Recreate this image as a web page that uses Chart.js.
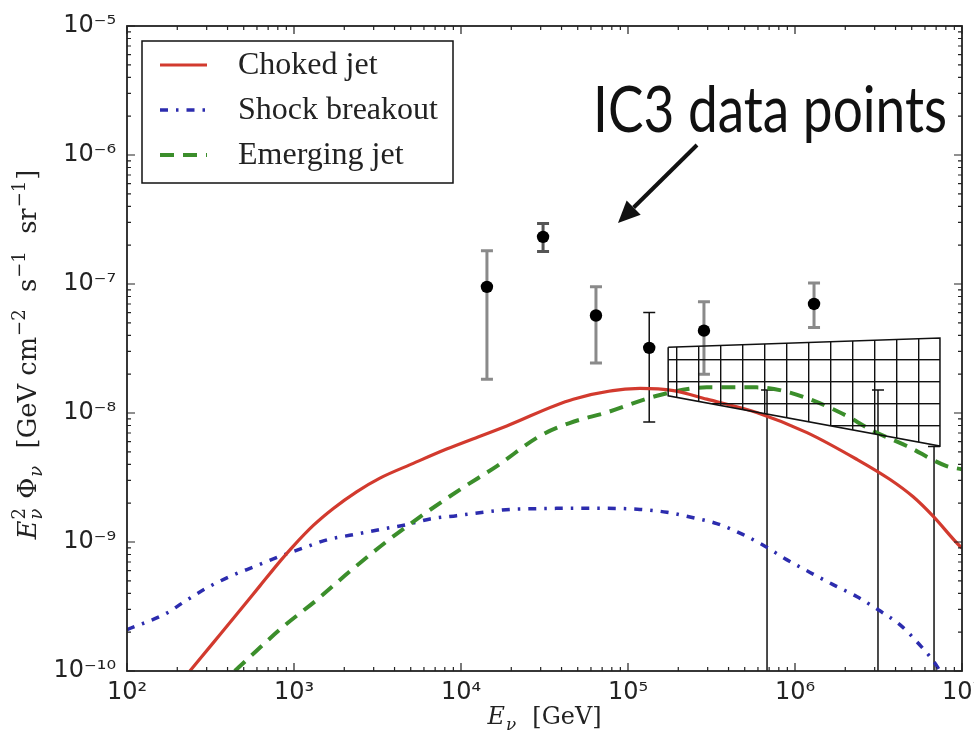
<!DOCTYPE html>
<html>
<head>
<meta charset="utf-8">
<script src="https://cdn.jsdelivr.net/npm/chart.js@4.4.1/dist/chart.umd.min.js"></script>
<style>
  body { margin: 0; background: #fff; }
  #wrap { position: relative; width: 974px; height: 744px; }
</style>
</head>
<body>
<div id="wrap"><canvas id="fluxChart"></canvas></div>
<script>
// energies in GeV, fluxes E^2 Phi in GeV cm^-2 s^-1 sr^-1
const chokedE = [238, 329, 454, 625, 824, 991, 1310, 1720, 2370, 3270, 5180, 8200, 13000, 18800, 47000, 118000, 187000, 296000, 589000, 1180000, 2340000, 3710000, 5100000, 6730000, 9730000, 10000000];
const chokedFlux = [1.0e-10, 1.66e-10, 2.75e-10, 4.57e-10, 7.08e-10, 9.3e-10, 1.35e-9, 1.82e-9, 2.45e-9, 3.13e-9, 4.07e-9, 5.25e-9, 6.61e-9, 7.94e-9, 1.28e-8, 1.55e-8, 1.49e-8, 1.28e-8, 1.01e-8, 7.05e-9, 4.38e-9, 3.05e-9, 2.24e-9, 1.58e-9, 9.27e-10, 9.0e-10];

const shockE = [100, 173, 217, 300, 414, 583, 824, 1140, 1600, 2270, 3270, 4730, 6520, 9420, 13600, 19600, 27100, 56600, 118000, 171000, 246000, 340000, 490000, 661000, 891000, 1230000, 1690000, 2340000, 3150000, 4260000, 5470000, 6890000, 7380000];
const shockFlux = [2.09e-10, 2.81e-10, 3.4e-10, 4.40e-10, 5.41e-10, 6.47e-10, 7.74e-10, 9.0e-10, 1.045e-9, 1.14e-9, 1.25e-9, 1.365e-9, 1.51e-9, 1.60e-9, 1.70e-9, 1.79e-9, 1.81e-9, 1.83e-9, 1.79e-9, 1.70e-9, 1.54e-9, 1.39e-9, 1.14e-9, 9.27e-10, 7.30e-10, 5.81e-10, 4.67e-10, 3.78e-10, 2.98e-10, 2.28e-10, 1.64e-10, 1.15e-10, 1.0e-10];

const emergE = [442, 521, 863, 1370, 2160, 3590, 5940, 9860, 16400, 29700, 44700, 74500, 149000, 296000, 589000, 933000, 1860000, 2940000, 4670000, 8090000, 10000000];
const emergFlux = [1.0e-10, 1.22e-10, 2.21e-10, 3.56e-10, 5.92e-10, 1.01e-9, 1.63e-9, 2.55e-9, 3.88e-9, 6.64e-9, 8.36e-9, 1.01e-8, 1.36e-8, 1.58e-8, 1.58e-8, 1.44e-8, 1.01e-8, 7.26e-9, 5.55e-9, 3.88e-9, 3.66e-9];

// IC3 data points with error bars
const icE = [14300, 31000, 64300, 134000, 285000, 1300000];
const icFlux = [9.5e-8, 2.32e-7, 5.7e-8, 3.2e-8, 4.35e-8, 7.0e-8];
const icLo = [1.83e-8, 1.79e-7, 2.44e-8, 8.5e-9, 2.0e-8, 4.6e-8];
const icHi = [1.81e-7, 2.94e-7, 9.5e-8, 6.0e-8, 7.3e-8, 1.02e-7];

// upper limits (bar runs down to zero)
const limE = [680000, 3140000, 6800000];
const limHi = [1.51e-8, 1.51e-8, 5.5e-9];

// hatched fit band
const bandE = [1.74e5, 7.38e6];
const bandTop = [3.23e-8, 3.82e-8];
const bandBottom = [1.36e-8, 5.55e-9];

const xTickExp = [2, 3, 4, 5, 6, 7];
const yTickExp = [-10, -9, -8, -7, -6, -5];

const barColors = ["#8a8a8a", "#555", "#8a8a8a", "#111", "#8a8a8a", "#8a8a8a"];
const barWidths = [3, 3, 3, 1.5, 3, 3];

const toXY = (xs, ys) => xs.map((x, i) => ({ x, y: ys[i] }));
const supMap = { "-": "⁻", "0": "⁰", "1": "¹", "2": "²", "3": "³", "4": "⁴", "5": "⁵", "6": "⁶", "7": "⁷", "8": "⁸", "9": "⁹" };
const pow10Label = (e) => "10" + String(e).split("").map((c) => supMap[c]).join("");
const isMajor = (v) => Math.abs(Math.log10(v) - Math.round(Math.log10(v))) < 1e-9;

function logTicks(exps) {
  const out = [];
  for (let i = 0; i < exps.length; i++) {
    const base = Math.pow(10, exps[i]);
    out.push({ value: base });
    if (i < exps.length - 1) for (let m = 2; m <= 9; m++) out.push({ value: m * base });
  }
  return out;
}

const serif = '"Liberation Serif", "DejaVu Serif", serif';
const titleSerif = '"DejaVu Serif", serif';

// draws (or just measures) text with super/subscripts, left aligned on baseline y
function richText(ctx, parts, size, x, y, draw, family) {
  let cx = x;
  for (const p of parts) {
    if (p.t !== undefined) {
      ctx.font = (p.it ? "italic " : "") + size + "px " + family;
      if (draw) ctx.fillText(p.t, cx, y);
      cx += ctx.measureText(p.t).width;
    } else {
      const s = size * 0.7;
      let w = 0;
      if (p.sup) {
        ctx.font = s + "px " + family;
        if (draw) ctx.fillText(p.sup, cx + 1, y - size * 0.42);
        w = ctx.measureText(p.sup).width;
      }
      if (p.sub) {
        ctx.font = "italic " + s + "px " + family;
        if (draw) ctx.fillText(p.sub, cx + 1, y + size * 0.24);
        w = Math.max(w, ctx.measureText(p.sub).width);
      }
      cx += w + 2;
    }
  }
  return cx - x;
}

const yTitle = [{ t: "E", it: 1 }, { sup: "2", sub: "ν" }, { t: " Φ" }, { sub: "ν" }, { t: "  [GeV cm" }, { sup: "−2" }, { t: "  s" }, { sup: "−1" }, { t: "  sr" }, { sup: "−1" }, { t: "]" }];
const xTitle = [{ t: "E", it: 1 }, { sub: "ν" }, { t: "  [GeV]" }];

// error bars + upper limits, under the markers
const errorBars = {
  id: "errorBars",
  beforeDatasetsDraw(chart) {
    const { ctx, chartArea: a, scales: { x, y } } = chart;
    const bar = (px, top, bottom, color, w, lowCap) => {
      ctx.strokeStyle = color;
      ctx.lineWidth = w;
      ctx.beginPath();
      ctx.moveTo(px, top); ctx.lineTo(px, bottom);
      ctx.moveTo(px - 6, top); ctx.lineTo(px + 6, top);
      if (lowCap) { ctx.moveTo(px - 6, bottom); ctx.lineTo(px + 6, bottom); }
      ctx.stroke();
    };
    ctx.save();
    ctx.beginPath();
    ctx.rect(a.left, a.top, a.width, a.height);
    ctx.clip();
    icE.forEach((e, i) => {
      bar(x.getPixelForValue(e), y.getPixelForValue(icHi[i]), y.getPixelForValue(icLo[i]), barColors[i], barWidths[i], true);
    });
    limE.forEach((e, i) => {
      bar(x.getPixelForValue(e), y.getPixelForValue(limHi[i]), a.bottom, "#111", 1.5, false);
    });
    ctx.restore();
  }
};

function makeHatch(ctx) {
  const tile = document.createElement("canvas");
  tile.width = tile.height = 22;
  const t = tile.getContext("2d");
  t.fillStyle = "#111";
  t.fillRect(0, 0, 1.4, 22);
  t.fillRect(0, 0, 22, 1.4);
  const p = ctx.createPattern(tile, "repeat");
  p.setTransform(new DOMMatrix().translate(16, 7));
  return p;
}

const hatchBand = {
  id: "hatchBand",
  beforeDatasetDraw(chart, args) {
    const ds = chart.data.datasets[args.index];
    if (!ds.hatch) return;
    const ctx = chart.ctx;
    const pts = args.meta.data;
    ctx.save();
    ctx.beginPath();
    pts.forEach((p, i) => (i ? ctx.lineTo(p.x, p.y) : ctx.moveTo(p.x, p.y)));
    ctx.closePath();
    ctx.fillStyle = makeHatch(ctx);
    ctx.fill();
    ctx.restore();
  }
};

// frame and inward ticks on all four sides
const frameTicks = {
  id: "frameTicks",
  afterDatasetsDraw(chart) {
    const { ctx, chartArea: a, scales: { x, y } } = chart;
    ctx.save();
    ctx.strokeStyle = "#222";
    ctx.lineWidth = 1.2;
    ctx.beginPath();
    x.ticks.forEach((t) => {
      const px = x.getPixelForValue(t.value);
      const len = isMajor(t.value) ? 8 : 4;
      ctx.moveTo(px, a.bottom); ctx.lineTo(px, a.bottom - len);
      ctx.moveTo(px, a.top); ctx.lineTo(px, a.top + len);
    });
    y.ticks.forEach((t) => {
      const py = y.getPixelForValue(t.value);
      const len = isMajor(t.value) ? 8 : 4;
      ctx.moveTo(a.left, py); ctx.lineTo(a.left + len, py);
      ctx.moveTo(a.right, py); ctx.lineTo(a.right - len, py);
    });
    ctx.stroke();
    ctx.lineWidth = 1.8;
    ctx.strokeRect(a.left, a.top, a.width, a.height);
    ctx.restore();
  }
};

// legend box, axis titles and the annotation
const decorations = {
  id: "decorations",
  afterDraw(chart) {
    const { ctx, chartArea: a } = chart;
    ctx.save();

    // legend
    const bx = a.left + 15, by = a.top + 15;
    ctx.fillStyle = "#fff";
    ctx.fillRect(bx, by, 311, 142);
    ctx.strokeStyle = "#111";
    ctx.lineWidth = 1.5;
    ctx.strokeRect(bx, by, 311, 142);
    chart.data.datasets.filter((d) => d.inLegend).forEach((d, i) => {
      const ry = by + 24 + i * 45;
      ctx.strokeStyle = d.borderColor;
      ctx.lineWidth = d.borderWidth;
      ctx.setLineDash(d.borderDash || []);
      ctx.beginPath();
      ctx.moveTo(bx + 18, ry);
      ctx.lineTo(bx + 65, ry);
      ctx.stroke();
      ctx.setLineDash([]);
      ctx.fillStyle = "#222";
      ctx.font = "32px " + serif;
      ctx.textBaseline = "alphabetic";
      ctx.fillText(d.label, bx + 96, ry + 9);
    });

    // axis titles, sized to the span they take in the original
    ctx.fillStyle = "#222";
    ctx.textBaseline = "alphabetic";
    const ySize = 25 * 370 / richText(ctx, yTitle, 25, 0, 0, false, titleSerif);
    const yw = richText(ctx, yTitle, ySize, 0, 0, false, titleSerif);
    ctx.save();
    ctx.translate(36, (a.top + a.bottom) / 2 + 6);
    ctx.rotate(-Math.PI / 2);
    richText(ctx, yTitle, ySize, -yw / 2, 0, true, titleSerif);
    ctx.restore();
    const xSize = 25 * 114 / richText(ctx, xTitle, 25, 0, 0, false, titleSerif);
    const xw = richText(ctx, xTitle, xSize, 0, 0, false, titleSerif);
    richText(ctx, xTitle, xSize, (a.left + a.right) / 2 - xw / 2, a.bottom + 53, true, titleSerif);

    // annotation
    ctx.fillStyle = "#111";
    ctx.font = '64px Lato, "Open Sans", sans-serif';
    ctx.fillText("IC3 data points", a.left + 466, a.top + 106, 354);
    const tail = { x: a.left + 570, y: a.top + 119 };
    const tip = { x: a.left + 491, y: a.top + 197 };
    const ang = Math.atan2(tip.y - tail.y, tip.x - tail.x);
    const hl = 22, hw = 10;
    const base = { x: tip.x - hl * Math.cos(ang), y: tip.y - hl * Math.sin(ang) };
    ctx.strokeStyle = "#111";
    ctx.lineWidth = 4;
    ctx.beginPath();
    ctx.moveTo(tail.x, tail.y);
    ctx.lineTo(base.x, base.y);
    ctx.stroke();
    ctx.beginPath();
    ctx.moveTo(tip.x, tip.y);
    ctx.lineTo(base.x + hw * Math.sin(ang), base.y - hw * Math.cos(ang));
    ctx.lineTo(base.x - hw * Math.sin(ang), base.y + hw * Math.cos(ang));
    ctx.closePath();
    ctx.fill();

    ctx.restore();
  }
};

const curve = (label, xs, ys, color, width, dash, order) => ({
  label,
  data: toXY(xs, ys),
  showLine: true,
  borderColor: color,
  borderWidth: width,
  borderDash: dash,
  pointRadius: 0,
  cubicInterpolationMode: "monotone",
  fill: false,
  inLegend: true,
  order
});

const bandData = toXY(
  [bandE[0], bandE[1], bandE[1], bandE[0], bandE[0]],
  [bandTop[0], bandTop[1], bandBottom[1], bandBottom[0], bandTop[0]]
);

new Chart(document.getElementById("fluxChart"), {
  type: "scatter",
  data: {
    datasets: [
      curve("Choked jet", chokedE, chokedFlux, "#d23a2e", 3.2, [], 2),
      curve("Shock breakout", shockE, shockFlux, "#2c2cae", 3.5, [8, 8, 2.5, 8], 4),
      curve("Emerging jet", emergE, emergFlux, "#3b8e2b", 4, [14, 9], 3),
      {
        label: "IC3 fit",
        data: bandData,
        showLine: true,
        hatch: true,
        borderColor: "#111",
        borderWidth: 1.5,
        pointRadius: 0,
        tension: 0,
        fill: false,
        order: 1
      },
      {
        label: "IC3 data points",
        data: toXY(icE, icFlux),
        backgroundColor: "#000",
        borderWidth: 0,
        pointRadius: 6.2,
        order: 0
      }
    ]
  },
  options: {
    responsive: true,
    maintainAspectRatio: false,
    animation: false,
    layout: { padding: { top: 26, right: 12, left: 0, bottom: 0 } },
    plugins: { legend: { display: false }, tooltip: { enabled: false } },
    scales: {
      x: {
        type: "logarithmic",
        min: 1e2,
        max: 1e7,
        grid: { display: false, drawTicks: false },
        border: { display: false },
        ticks: {
          autoSkip: false,
          maxRotation: 0,
          padding: 7,
          color: "#222",
          font: { family: '"DejaVu Sans", sans-serif', size: 24 },
          callback: (v) => (isMajor(v) ? pow10Label(Math.round(Math.log10(v))) : "")
        },
        afterBuildTicks: (s) => { s.ticks = logTicks(xTickExp); },
        afterFit: (s) => { s.height = 73; s.paddingLeft = 0; s.paddingRight = 0; }
      },
      y: {
        type: "logarithmic",
        min: 1e-10,
        max: 1e-5,
        grid: { display: false, drawTicks: false },
        border: { display: false },
        ticks: {
          autoSkip: false,
          padding: 11,
          color: "#222",
          font: { family: '"DejaVu Sans", sans-serif', size: 24 },
          callback: (v) => (isMajor(v) ? pow10Label(Math.round(Math.log10(v))) : "")
        },
        afterBuildTicks: (s) => { s.ticks = logTicks(yTickExp); },
        afterFit: (s) => { s.width = 127; s.paddingTop = 0; s.paddingBottom = 0; }
      }
    }
  },
  plugins: [errorBars, hatchBand, frameTicks, decorations]
});
</script>
</body>
</html>
